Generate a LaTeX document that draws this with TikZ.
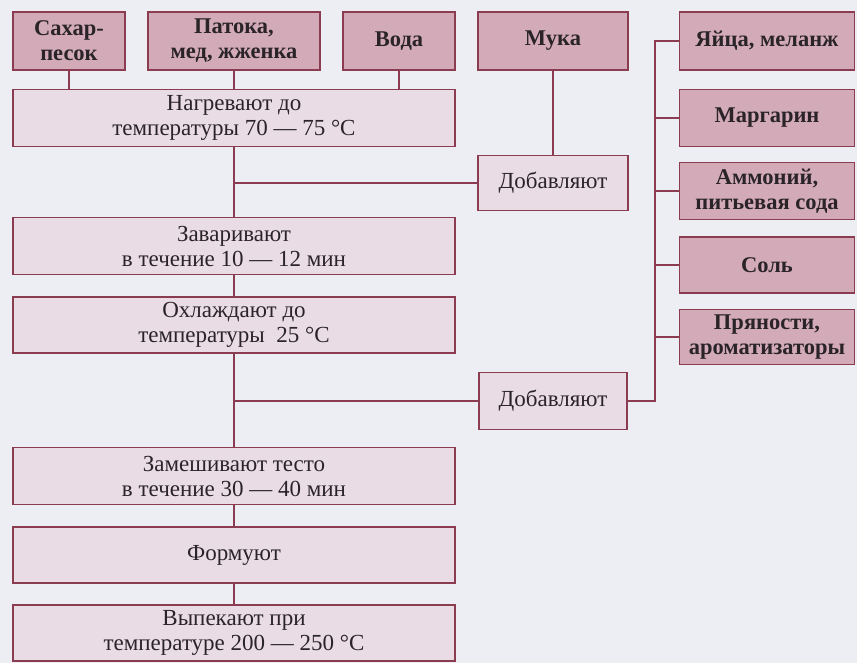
\documentclass[tikz,border=0pt]{standalone}
\usepackage{fontspec}
\setmainfont{Liberation Serif}
\usepackage{xcolor}
\definecolor{paper}{HTML}{ECEEF4}
\definecolor{rim}{HTML}{8C3C50}
\definecolor{rawfill}{HTML}{D3ABB8}
\definecolor{stepfill}{HTML}{EADCE4}
\definecolor{ink}{HTML}{2A2428}

\begin{document}
\begin{tikzpicture}[x=1pt, y=-1pt,
    box/.style={draw=rim, line width=1.6pt, inner sep=0pt, align=center, text=ink,
                font=\fontsize{23}{25}\selectfont},
    raw/.style={box, fill=rawfill, font=\fontsize{22.5}{25}\selectfont\bfseries},
    stepbox/.style={box, fill=stepfill},
    link/.style={rim, line width=1.4pt}]

    % Page
    \fill[paper] (0,0) rectangle (857,663);
    \useasboundingbox (0,0) rectangle (857,663);

    % Raw materials (top row)
    \node[raw, minimum width=112, minimum height=58] (sugar)  at (69,41)  {Сахар-\\песок};
    \node[raw, minimum width=172, minimum height=58] (syrup)  at (234,41) {Патока,\\мед, жженка};
    \node[raw, minimum width=112, minimum height=58] (water)  at (399,41) {Вода};
    \node[raw, minimum width=150, minimum height=58] (flour)  at (553,41) {Мука};

    % Raw materials (right column)
    \node[raw, minimum width=175, minimum height=58] (eggs)      at (767,41)  {Яйца, меланж};
    \node[raw, minimum width=175, minimum height=57] (margarine) at (767,118) {Маргарин};
    \node[raw, minimum width=175, minimum height=57] (ammonium)  at (767,191) {Аммоний,\\питьевая сода};
    \node[raw, minimum width=175, minimum height=56] (salt)      at (767,265) {Соль};
    \node[raw, minimum width=175, minimum height=55] (spices)    at (767,337) {Пряности,\\ароматизаторы};

    % Process steps (left column)
    \node[stepbox, minimum width=442, minimum height=57] (heat)  at (234,118) {Нагревают до\\температуры 70 — 75 °С};
    \node[stepbox, minimum width=442, minimum height=57] (brew)  at (234,246) {Заваривают\\в течение 10 — 12 мин};
    \node[stepbox, minimum width=442, minimum height=56] (cool)  at (234,325) {Охлаждают до\\температуры \ 25 °С};
    \node[stepbox, minimum width=442, minimum height=57] (knead) at (234,476) {Замешивают тесто\\в течение 30 — 40 мин};
    \node[stepbox, minimum width=442, minimum height=56] (shape) at (234,555) {Формуют};
    \node[stepbox, minimum width=442, minimum height=56] (bake)  at (234,633) {Выпекают при\\температуре 200 — 250 °С};

    % Additions
    \node[stepbox, minimum width=150, minimum height=55] (addA) at (553,183) {Добавляют};
    \node[stepbox, minimum width=148, minimum height=57] (addB) at (553,401) {Добавляют};

    % Bus for the right column
    \coordinate (bus) at (655,0);

    % Connectors
    \foreach \src in {sugar, syrup, water}
        \draw[link] (\src.south) -- (\src.south |- heat.north);
    \draw[link] (heat) -- (brew);
    \draw[link] (brew) -- (cool);
    \draw[link] (cool) -- (knead);
    \draw[link] (knead) -- (shape);
    \draw[link] (shape) -- (bake);
    \draw[link] (flour) -- (addA);
    \draw[link] (addA.west) -- (addA.west -| heat.south);
    \draw[link] (addB.west) -- (addB.west -| heat.south);
    \draw[link] (eggs.west) -- (eggs.west -| bus) |- (addB.east);
    \foreach \src in {margarine, ammonium, salt, spices}
        \draw[link] (\src.west) -- (\src.west -| bus);

\end{tikzpicture}
\end{document}
